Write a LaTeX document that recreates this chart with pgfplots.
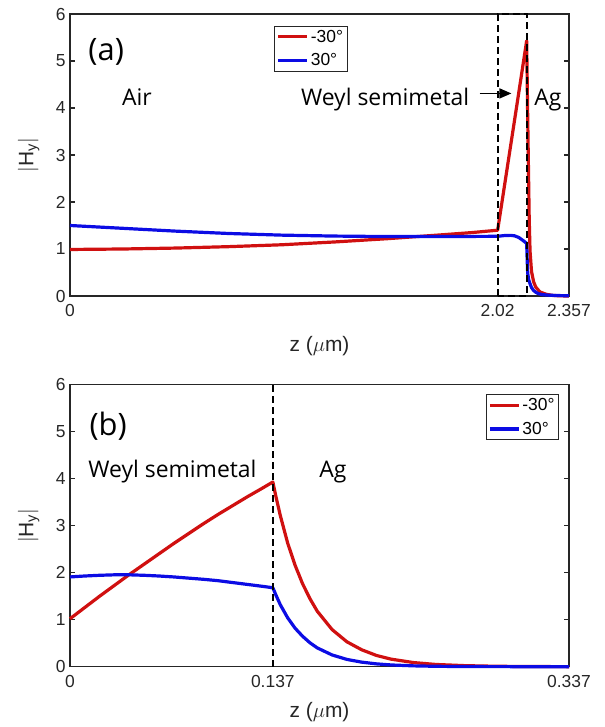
\documentclass[border=0pt]{standalone}
\usepackage{fontspec}
\setmainfont{Liberation Sans}
\newfontfamily\annot{Open Sans}
\usepackage{pgfplots}
\pgfplotsset{compat=1.18}
\usetikzlibrary{arrows.meta}

\definecolor{hred}{RGB}{208,16,16}
\definecolor{hblue}{RGB}{12,12,228}
\definecolor{axgray}{RGB}{38,38,38}

\tikzset{
  txt/.style={font=\annot\fontsize{23}{26}\selectfont, text=black, inner sep=0pt},
  dashpat/.style={black, line width=1.7bp, dash pattern=on 7bp off 4bp},
}

\pgfplotsset{
  panel/.style={
    scale only axis, width=499bp, height=282bp,
    ymin=0, ymax=6, ytick={0,1,2,3,4,5,6},
    clip=false,
    tick align=inside, major tick length=5bp,
    axis line style={line width=1.1bp, draw=axgray},
    every tick/.style={line width=1.1bp, draw=axgray},
    tick label style={font=\fontsize{17.5}{19}\selectfont, text=axgray},
    /pgf/number format/assume math mode=true,
    xticklabel style={yshift=-5bp},
    yticklabel style={xshift=-1bp},
    label style={font=\fontsize{21}{23}\selectfont, text=axgray},
    ylabel={$|$H\textsubscript{y}$|$},
    ylabel style={at={(axis description cs:-0.083,0.5)}, anchor=center},
    xlabel={z ($\mu$m)},
    legend style={font=\fontsize{17.5}{19}\selectfont, draw=axgray, line width=0.9bp,
      fill=white, inner xsep=2bp, inner ysep=2bp, row sep=6bp, cells={anchor=west}},
    legend cell align=left,
    legend image code/.code={\draw[#1] (0bp,0bp) -- (29bp,0bp);},
  },
  curve/.style={line width=3.2bp, line join=round},
}

\pgfplotstableread{
z      v
0      0.99
0.25   1.00
0.5    1.02
0.75   1.05
1.0    1.09
1.25   1.15
1.5    1.22
1.75   1.30
1.9    1.35
2.02   1.40
2.05   2.28
2.08   3.16
2.11   4.04
2.13   4.63
2.157  5.43
2.161  4.10
2.165  2.85
2.169  1.65
2.173  0.95
2.18   0.52
2.19   0.30
2.2    0.19
2.22   0.085
2.25   0.036
2.28   0.012
2.32   0.003
2.357  0.0
}\redA

\pgfplotstableread{
z      v
0      1.50
0.25   1.44
0.5    1.38
0.75   1.33
1.0    1.295
1.25   1.275
1.5    1.265
1.75   1.265
2.02   1.27
2.05   1.285
2.08   1.29
2.10   1.28
2.12   1.245
2.14   1.18
2.157  1.12
2.160  0.70
2.162  0.48
2.167  0.34
2.173  0.26
2.18   0.18
2.189  0.12
2.2    0.08
2.212  0.05
2.23   0.03
2.252  0.02
2.3    0.01
2.357  0.005
}\blueA

\pgfplotstableread{
z      v
0      1.02
0.01   1.26
0.02   1.50
0.03   1.73
0.04   1.96
0.05   2.18
0.06   2.40
0.07   2.62
0.08   2.83
0.09   3.04
0.10   3.24
0.11   3.43
0.12   3.62
0.13   3.80
0.137  3.93
0.139  3.63
0.142  3.22
0.147  2.63
0.152  2.16
0.157  1.77
0.162  1.45
0.167  1.18
0.177  0.79
0.187  0.53
0.197  0.36
0.207  0.239
0.217  0.16
0.232  0.088
0.247  0.048
0.267  0.022
0.287  0.010
0.307  0.004
0.337  0.001
}\redB

\pgfplotstableread{
z      v
0      1.91
0.01   1.93
0.02   1.945
0.03   1.955
0.04   1.955
0.05   1.945
0.06   1.93
0.07   1.91
0.08   1.885
0.09   1.86
0.10   1.83
0.11   1.79
0.12   1.75
0.13   1.71
0.137  1.68
0.139  1.53
0.142  1.32
0.147  1.04
0.152  0.82
0.157  0.65
0.162  0.51
0.167  0.40
0.177  0.25
0.187  0.155
0.197  0.097
0.207  0.060
0.217  0.037
0.232  0.018
0.247  0.0086
0.267  0.003
0.3    0.001
0.337  0.0
}\blueB

\begin{document}
\begin{tikzpicture}
\path[use as bounding box] (-70bp,-431bp) rectangle (535bp,296bp);

% panel (a)
\begin{axis}[panel, at={(0bp,0bp)}, anchor=south west,
  xmin=0, xmax=2.357, xtick={0,2.02,2.357}, xticklabels={0,2.02,2.357},
  xlabel style={at={(axis description cs:0.5,-0.177)}, anchor=center},
  legend style={at={(0.4826,0.959)}, anchor=north}]
\addplot[curve, hred] table[x=z, y=v] {\redA};
\addlegendentry{-30°}
\addplot[curve, hblue] table[x=z, y=v] {\blueA};
\addlegendentry{30°}
\draw[dashpat] (axis cs:2.02,0) rectangle (axis cs:2.157,6);
\node[txt, anchor=base] at (axis cs:0.171,5.02) {\fontsize{31}{34}\selectfont (a)};
\node[txt, anchor=base] at (axis cs:0.3165,4.06) {Air};
\node[txt, anchor=base east] at (axis cs:1.8866,4.06) {Weyl semimetal};
\draw[line width=1.5bp, -{Triangle[length=12bp,width=10bp]}] (axis cs:1.935,4.31) -- (axis cs:2.085,4.31);
\node[txt, anchor=base] at (axis cs:2.257,4.06) {Ag};
\end{axis}

% panel (b)
\begin{axis}[panel, at={(0bp,-370.7bp)}, anchor=south west,
  xmin=0, xmax=0.337, xtick={0,0.137,0.337}, xticklabels={0,0.137,0.337},
  xlabel style={at={(axis description cs:0.5,-0.16)}, anchor=center},
  legend style={at={(0.98,0.967)}, anchor=north east}]
\addplot[curve, hred] table[x=z, y=v] {\redB};
\addlegendentry{-30°}
\addplot[curve, hblue] table[x=z, y=v] {\blueB};
\addlegendentry{30°}
\draw[dashpat] (axis cs:0.137,0) -- (axis cs:0.137,6);
\node[txt, anchor=base] at (axis cs:0.0258,4.92) {\fontsize{31}{34}\selectfont (b)};
\node[txt, anchor=base west] at (axis cs:0.0123,4.03) {Weyl semimetal};
\node[txt, anchor=base] at (axis cs:0.1776,4.03) {Ag};
\end{axis}
\end{tikzpicture}
\end{document}
